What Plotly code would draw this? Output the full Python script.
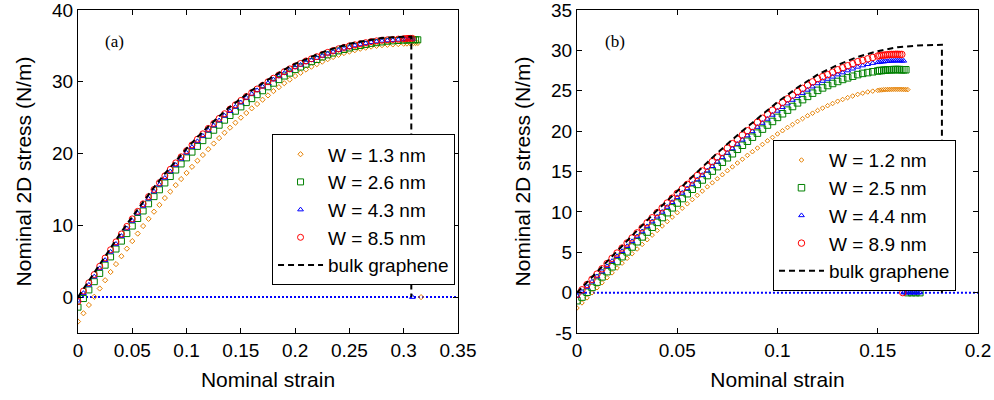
import plotly.graph_objects as go

# ---------------- Panel (a) data ----------------
STRAIN_A = [0, 0.005, 0.01, 0.015, 0.02, 0.025, 0.03, 0.035, 0.04, 0.045, 0.05, 0.055, 0.06, 0.065,
            0.07, 0.075, 0.08, 0.085, 0.09, 0.095, 0.1, 0.105, 0.11, 0.115, 0.12, 0.125, 0.13, 0.135,
            0.14, 0.145, 0.15, 0.155, 0.16, 0.165, 0.17, 0.175, 0.18, 0.185, 0.19, 0.195, 0.2, 0.205,
            0.21, 0.215, 0.22, 0.225, 0.23, 0.235, 0.24, 0.245, 0.25, 0.255, 0.26, 0.265, 0.27, 0.275,
            0.28, 0.285, 0.29, 0.295, 0.3]
ORANGE_A = [-3.4, -2.25, -1.1, 0.05, 1.2, 2.35, 3.5, 4.6, 5.7, 6.75, 7.8, 8.85, 9.9, 10.9, 11.9, 12.85,
            13.8, 14.7, 15.6, 16.45, 17.3, 18.15, 19.0, 19.8, 20.6, 21.4, 22.15, 22.9, 23.6, 24.3, 25.0,
            25.65, 26.3, 26.9, 27.5, 28.1, 28.7, 29.25, 29.8, 30.3, 30.8, 31.25, 31.7, 32.1, 32.45, 32.8,
            33.15, 33.45, 33.75, 34.0, 34.2, 34.4, 34.6, 34.75, 34.9, 35.0, 35.1, 35.15, 35.2, 35.25, 35.3]
GREEN_A = [-1.4, -0.2, 1.0, 2.15, 3.3, 4.45, 5.6, 6.7, 7.8, 8.85, 9.9, 10.95, 12.0, 13.0, 14.0, 14.95,
           15.9, 16.8, 17.7, 18.55, 19.4, 20.2, 21.0, 21.8, 22.55, 23.25, 23.95, 24.65, 25.3, 25.9, 26.5,
           27.1, 27.65, 28.2, 28.75, 29.3, 29.8, 30.3, 30.8, 31.2, 31.7, 32.05, 32.45, 32.8, 33.1, 33.45,
           33.75, 34.0, 34.3, 34.5, 34.7, 34.9, 35.05, 35.2, 35.35, 35.45, 35.55, 35.65, 35.7, 35.75, 35.8]
BLUE_A = [-0.5, 0.55, 1.7, 2.85, 4.0, 5.15, 6.3, 7.4, 8.5, 9.55, 10.6, 11.65, 12.7, 13.7, 14.7, 15.65,
          16.6, 17.5, 18.4, 19.25, 20.1, 20.9, 21.7, 22.45, 23.2, 23.9, 24.6, 25.25, 25.9, 26.5, 27.1,
          27.75, 28.3, 28.8, 29.3, 29.8, 30.3, 30.75, 31.2, 31.6, 32.0, 32.35, 32.7, 33.0, 33.3, 33.6,
          33.9, 34.15, 34.4, 34.6, 34.8, 35.05, 35.2, 35.35, 35.5, 35.6, 35.7, 35.75, 35.8, 35.85, 35.9]
RED_A = [-0.6, 0.85, 2.0, 3.15, 4.3, 5.45, 6.6, 7.7, 8.8, 9.85, 10.9, 11.95, 13.0, 14.0, 15.0, 15.95,
         16.9, 17.8, 18.7, 19.55, 20.4, 21.2, 22.0, 22.75, 23.5, 24.2, 24.9, 25.55, 26.2, 26.8, 27.4,
         27.95, 28.5, 29.0, 29.5, 30.0, 30.5, 30.95, 31.4, 31.8, 32.2, 32.55, 32.9, 33.2, 33.5, 33.8,
         34.1, 34.35, 34.6, 34.8, 35.0, 35.15, 35.3, 35.45, 35.6, 35.7, 35.8, 35.85, 35.9, 35.95, 36.0]
# end-of-loading points (plateau and post-failure zero stress)
ORANGE_A_TAIL_X = [0.303, 0.306, 0.309, 0.311, 0.313, 0.316]
ORANGE_A_TAIL_Y = [35.32, 35.35, 35.38, 35.4, 35.4, 0]
GREEN_A_TAIL_X = [0.303, 0.306, 0.309, 0.311, 0.313]
GREEN_A_TAIL_Y = [35.8, 35.85, 35.85, 35.85, 35.85]
BLUE_A_TAIL_X = [0.302, 0.304, 0.306, 0.308, 0.308]
BLUE_A_TAIL_Y = [35.92, 35.95, 35.95, 35.95, 0]
RED_A_TAIL_X = [0.302, 0.304, 0.306, 0.308]
RED_A_TAIL_Y = [36.02, 36.05, 36.05, 36.05]
BULK_A_X = [0, 0.01, 0.02, 0.03, 0.04, 0.05, 0.06, 0.07, 0.08, 0.09, 0.1, 0.11, 0.12, 0.13, 0.14, 0.15,
            0.16, 0.17, 0.18, 0.19, 0.2, 0.21, 0.22, 0.23, 0.24, 0.25, 0.26, 0.27, 0.28, 0.29, 0.3,
            0.307, 0.307]
BULK_A_Y = [0, 2.3, 4.6, 6.9, 9.1, 11.2, 13.3, 15.3, 17.2, 19.0, 20.7, 22.3, 23.8, 25.2, 26.5, 27.7,
            28.8, 29.8, 30.8, 31.7, 32.5, 33.2, 33.8, 34.4, 34.9, 35.3, 35.6, 35.9, 36.1, 36.2, 36.3,
            36.3, 0]
LABELS_A = ["W = 1.3 nm", "W = 2.6 nm", "W = 4.3 nm", "W = 8.5 nm"]

# ---------------- Panel (b) data ----------------
STRAIN_B = [0, 0.0025, 0.005, 0.0075, 0.01, 0.0125, 0.015, 0.0175, 0.02, 0.0225, 0.025, 0.0275, 0.03,
            0.0325, 0.035, 0.0375, 0.04, 0.0425, 0.045, 0.0475, 0.05, 0.0525, 0.055, 0.0575, 0.06,
            0.0625, 0.065, 0.0675, 0.07, 0.0725, 0.075, 0.0775, 0.08, 0.0825, 0.085, 0.0875, 0.09,
            0.0925, 0.095, 0.0975, 0.1, 0.1025, 0.105, 0.1075, 0.11, 0.1125, 0.115, 0.1175, 0.12,
            0.1225, 0.125, 0.1275, 0.13, 0.1325, 0.135, 0.1375, 0.14, 0.1425, 0.145, 0.1475, 0.15]
ORANGE_B = [-1.9, -1.27, -0.65, -0.02, 0.6, 1.22, 1.85, 2.45, 3.05, 3.65, 4.25, 4.82, 5.4, 5.97, 6.55,
            7.12, 7.7, 8.25, 8.8, 9.35, 9.9, 10.45, 11.0, 11.52, 12.05, 12.57, 13.1, 13.6, 14.1, 14.6,
            15.1, 15.57, 16.05, 16.52, 17.0, 17.45, 17.9, 18.35, 18.8, 19.22, 19.65, 20.05, 20.45,
            20.82, 21.2, 21.55, 21.9, 22.22, 22.55, 22.85, 23.15, 23.42, 23.7, 23.92, 24.15, 24.35,
            24.55, 24.7, 24.85, 24.95, 25.05]
GREEN_B = [-1.0, -0.55, 0.05, 0.65, 1.3, 1.95, 2.6, 3.2, 3.85, 4.45, 5.05, 5.65, 6.3, 6.9, 7.5, 8.1,
           8.7, 9.3, 9.9, 10.5, 11.1, 11.65, 12.25, 12.8, 13.4, 13.95, 14.5, 15.05, 15.6, 16.15, 16.7,
           17.2, 17.75, 18.25, 18.75, 19.25, 19.75, 20.25, 20.75, 21.2, 21.7, 22.15, 22.6, 23.05, 23.5,
           23.9, 24.3, 24.7, 25.05, 25.35, 25.65, 25.9, 26.15, 26.4, 26.6, 26.8, 27.0, 27.15, 27.25,
           27.35, 27.45]
BLUE_B = [-0.4, 0.1, 0.7, 1.35, 2.0, 2.6, 3.25, 3.9, 4.5, 5.12, 5.75, 6.35, 6.95, 7.57, 8.2, 8.8, 9.4,
          10.0, 10.6, 11.2, 11.8, 12.35, 12.9, 13.45, 14.0, 14.55, 15.1, 15.65, 16.2, 16.75, 17.3,
          17.85, 18.4, 18.92, 19.45, 19.97, 20.5, 21.0, 21.5, 22.0, 22.5, 22.95, 23.4, 23.85, 24.3,
          24.7, 25.1, 25.5, 25.9, 26.2, 26.45, 26.72, 27.0, 27.25, 27.5, 27.72, 27.95, 28.12, 28.28,
          28.42, 28.52]
RED_B = [-0.2, 0.35, 1.0, 1.65, 2.3, 2.95, 3.6, 4.25, 4.9, 5.52, 6.15, 6.77, 7.4, 8.02, 8.65, 9.27,
         9.9, 10.5, 11.1, 11.7, 12.3, 12.85, 13.4, 13.95, 14.5, 15.07, 15.65, 16.22, 16.8, 17.35, 17.9,
         18.45, 19.0, 19.52, 20.05, 20.57, 21.1, 21.6, 22.1, 22.6, 23.1, 23.55, 24.0, 24.45, 24.9,
         25.3, 25.7, 26.1, 26.5, 26.75, 27.0, 27.3, 27.6, 27.85, 28.1, 28.35, 28.6, 28.77, 28.95,
         29.12, 29.3]
ORANGE_B_TAIL_X = [0.151, 0.152, 0.153, 0.154, 0.155, 0.156, 0.157, 0.158, 0.159, 0.16, 0.161, 0.162,
                   0.163, 0.164, 0.165]
ORANGE_B_TAIL_Y = [25.08, 25.1, 25.12, 25.14, 25.15, 25.16, 25.17, 25.18, 25.18, 25.18, 25.18, 25.17,
                   25.16, 25.15, 25.14]
GREEN_B_TAIL_X = [0.151, 0.152, 0.153, 0.154, 0.155, 0.156, 0.157, 0.158, 0.159, 0.16, 0.161, 0.162,
                  0.163, 0.164, 0.165, 0.167, 0.169, 0.171]
GREEN_B_TAIL_Y = [27.5, 27.5, 27.55, 27.55, 27.6, 27.6, 27.6, 27.62, 27.62, 27.62, 27.62, 27.6, 27.6,
                  27.6, 0, 0, 0, 0]
BLUE_B_TAIL_X = [0.151, 0.152, 0.153, 0.154, 0.155, 0.156, 0.157, 0.158, 0.159, 0.16, 0.161, 0.162,
                 0.163, 0.163, 0.164, 0.165, 0.166, 0.167, 0.168, 0.169, 0.17, 0.171]
BLUE_B_TAIL_Y = [28.55, 28.6, 28.6, 28.65, 28.65, 28.7, 28.7, 28.7, 28.72, 28.72, 28.72, 28.7, 28.7,
                 0, 0, 0, 0, 0, 0, 0, 0, 0]
RED_B_TAIL_X = [0.151, 0.152, 0.153, 0.154, 0.155, 0.156, 0.157, 0.158, 0.159, 0.16, 0.161, 0.162,
                0.1625]
RED_B_TAIL_Y = [29.35, 29.4, 29.4, 29.45, 29.45, 29.5, 29.5, 29.5, 29.52, 29.52, 29.5, 29.5, 0]
BULK_B_X = [0, 0.01, 0.02, 0.03, 0.04, 0.05, 0.06, 0.07, 0.08, 0.09, 0.1, 0.11, 0.12, 0.13, 0.14,
            0.15, 0.16, 0.17, 0.18, 0.182, 0.182]
BULK_B_Y = [0, 2.6, 5.2, 7.7, 10.2, 12.6, 15.0, 17.3, 19.5, 21.6, 23.6, 25.4, 27.0, 28.2, 29.2, 29.9,
            30.4, 30.6, 30.7, 30.7, 0]
LABELS_B = ["W = 1.2 nm", "W = 2.5 nm", "W = 4.4 nm", "W = 8.9 nm"]

# ---------------- Styles ----------------
COLORS = ["rgb(230,128,0)", "rgb(0,128,0)", "rgb(0,0,255)", "rgb(255,0,0)"]
SYMBOLS = ["diamond-open", "square-open", "triangle-up-open", "circle-open"]
SIZES_A = [4, 6, 5, 6]
SIZES_B = [3.5, 6.5, 5, 6.5]
FONT = "Liberation Sans, Arial, sans-serif"

fig = go.Figure()

# zero lines
fig.add_trace(go.Scatter(x=[0, 0.35], y=[0, 0], mode="lines", showlegend=False,
                         line=dict(color="blue", dash="2px,2px", width=2), xaxis="x", yaxis="y",
                         hoverinfo="skip"))
fig.add_trace(go.Scatter(x=[0, 0.2], y=[0, 0], mode="lines", showlegend=False,
                         line=dict(color="blue", dash="2px,2px", width=2), xaxis="x2", yaxis="y2",
                         hoverinfo="skip"))

series_a = [(ORANGE_A, ORANGE_A_TAIL_X, ORANGE_A_TAIL_Y), (GREEN_A, GREEN_A_TAIL_X, GREEN_A_TAIL_Y),
            (BLUE_A, BLUE_A_TAIL_X, BLUE_A_TAIL_Y), (RED_A, RED_A_TAIL_X, RED_A_TAIL_Y)]
for i, (ys, tx, ty) in enumerate(series_a):
    fig.add_trace(go.Scatter(
        x=STRAIN_A + tx, y=ys + ty, mode="markers", name=LABELS_A[i],
        legendgroup="a%d" % i, legend="legend",
        marker=dict(symbol=SYMBOLS[i], size=SIZES_A[i], color=COLORS[i], line=dict(width=1, color=COLORS[i])),
        xaxis="x", yaxis="y"))
fig.add_trace(go.Scatter(x=BULK_A_X, y=BULK_A_Y, mode="lines", name="bulk graphene",
                         legendgroup="a4", legend="legend",
                         line=dict(color="black", dash="6px,4px", width=2), xaxis="x", yaxis="y"))

series_b = [(ORANGE_B, ORANGE_B_TAIL_X, ORANGE_B_TAIL_Y), (GREEN_B, GREEN_B_TAIL_X, GREEN_B_TAIL_Y),
            (BLUE_B, BLUE_B_TAIL_X, BLUE_B_TAIL_Y), (RED_B, RED_B_TAIL_X, RED_B_TAIL_Y)]
for i, (ys, tx, ty) in enumerate(series_b):
    fig.add_trace(go.Scatter(
        x=STRAIN_B + tx, y=ys + ty, mode="markers", name=LABELS_B[i],
        legendgroup="b%d" % i, legend="legend2",
        marker=dict(symbol=SYMBOLS[i], size=SIZES_B[i], color=COLORS[i], line=dict(width=1, color=COLORS[i])),
        xaxis="x2", yaxis="y2"))
fig.add_trace(go.Scatter(x=BULK_B_X, y=BULK_B_Y, mode="lines", name="bulk graphene",
                         legendgroup="b4", legend="legend2",
                         line=dict(color="black", dash="6px,4px", width=2), xaxis="x2", yaxis="y2"))

axis_common = dict(showline=True, linecolor="black", linewidth=1, mirror="ticks", ticks="inside",
                   ticklen=5, tickcolor="black", showgrid=False, zeroline=False, automargin=False,
                   ticklabeloverflow="allow",
                   tickfont=dict(size=19, color="black", family=FONT))
title_font = dict(size=21, color="black", family=FONT)

legend_common = dict(bgcolor="white", bordercolor="black", borderwidth=1,
                     font=dict(size=19, color="black", family=FONT), itemwidth=45,
                     xanchor="left", yanchor="top", tracegroupgap=0, traceorder="grouped")

fig.update_layout(
    width=994, height=400,
    margin=dict(l=78, r=16, t=10, b=67, autoexpand=False),
    paper_bgcolor="white", plot_bgcolor="white",
    xaxis=dict(domain=[0, 0.4222], range=[0, 0.35], tickvals=[0, 0.05, 0.1, 0.15, 0.2, 0.25, 0.3, 0.35],
               ticktext=["0", "0.05", "0.1", "0.15", "0.2", "0.25", "0.3", "0.35"],
               title=dict(text="Nominal strain", font=title_font, standoff=12), anchor="y", **axis_common),
    yaxis=dict(domain=[0, 1], range=[-5, 40], tickvals=[0, 10, 20, 30, 40],
               title=dict(text="Nominal 2D stress (N/m)", font=title_font, standoff=14), anchor="x",
               **axis_common),
    xaxis2=dict(domain=[0.5544, 1], range=[0, 0.2], tickvals=[0, 0.05, 0.1, 0.15, 0.2],
                ticktext=["0", "0.05", "0.1", "0.15", "0.2"],
                title=dict(text="Nominal strain", font=title_font, standoff=12), anchor="y2", **axis_common),
    yaxis2=dict(domain=[0, 1], range=[-5, 35], tickvals=[-5, 0, 5, 10, 15, 20, 25, 30, 35],
                ticktext=["-5", "0", "5", "10", "15", "20", "25", "30", "35"],
                title=dict(text="Nominal 2D stress (N/m)", font=title_font, standoff=14), anchor="x2",
                **axis_common),
    legend=dict(x=0.2156, y=0.615, **legend_common),
    legend2=dict(x=0.7722, y=0.597, **legend_common),
    annotations=[
        dict(text="(a)", x=0.041, y=0.901, xref="paper", yref="paper", showarrow=False,
             xanchor="center", yanchor="middle",
             font=dict(size=17, color="black", family="Liberation Serif, Times New Roman, serif")),
        dict(text="(b)", x=0.5967, y=0.901, xref="paper", yref="paper", showarrow=False,
             xanchor="center", yanchor="middle",
             font=dict(size=17, color="black", family="Liberation Serif, Times New Roman, serif")),
    ],
)

fig.write_html("out.html")
